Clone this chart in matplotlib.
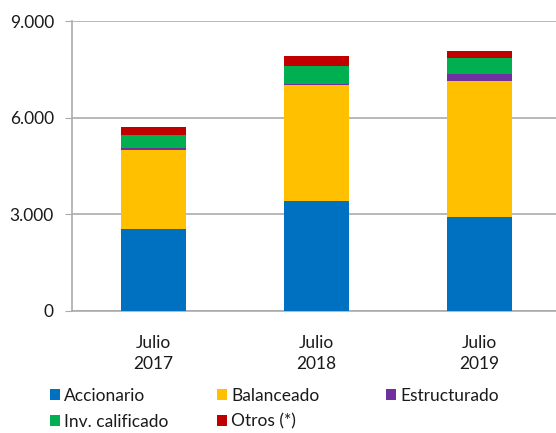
import matplotlib.pyplot as plt
from matplotlib.patches import Patch
from matplotlib.ticker import FuncFormatter

categories = ["Julio\n2017", "Julio\n2018", "Julio\n2019"]
series_names = ["Accionario", "Balanceado", "Estructurado", "Inv. calificado", "Otros (*)"]
accionario = [2530, 3420, 2930]
balanceado = [2470, 3600, 4200]
estructurado = [60, 30, 215]
inv_calificado = [390, 560, 515]
otros = [265, 300, 220]
colors = ["#0070C0", "#FFC000", "#7030A0", "#00B050", "#C00000"]
y_ticks = [0, 3000, 6000, 9000]

plt.rcParams["font.family"] = ["Lato", "DejaVu Sans"]

fig = plt.figure(figsize=(5.56, 4.33), dpi=100)
ax = fig.add_axes([0.1295, 0.2818, 0.88, 0.6697])

series = [accionario, balanceado, estructurado, inv_calificado, otros]
x = range(len(categories))
bottom = [0] * len(categories)
for name, vals, col in zip(series_names, series, colors):
    ax.bar(x, vals, width=0.4, bottom=bottom, color=col, label=name, zorder=3)
    bottom = [b + v for b, v in zip(bottom, vals)]

ax.set_xlim(-0.5, 2.5)
ax.set_ylim(0, 9000)
ax.set_yticks(y_ticks)
ax.yaxis.set_major_formatter(FuncFormatter(lambda v, p: f"{int(v):,}".replace(",", ".")))
ax.set_xticks(list(x))
ax.set_xticklabels(categories, fontsize=12.5, color="#1a1a1a", linespacing=1.45)
ax.grid(axis="y", color="#ababab", linewidth=1.2, zorder=0)
for s in ["top", "right"]:
    ax.spines[s].set_visible(False)
ax.spines["left"].set_color("#ababab")
ax.spines["bottom"].set_color("#ababab")
ax.spines["left"].set_linewidth(1.2)
ax.spines["bottom"].set_linewidth(1.2)
ax.tick_params(axis="y", length=5, color="#ababab", labelsize=12.5, labelcolor="#1a1a1a", pad=8)
ax.tick_params(axis="x", length=0, pad=17)

# legend: three columns laid out like the original, row-major order
col_x = [0.09, 0.39, 0.694]
columns = [[0, 3], [1, 4], [2]]
for cx, idx in zip(col_x, columns):
    handles = [Patch(facecolor=colors[i], edgecolor="none") for i in idx]
    labels = [series_names[i] for i in idx]
    leg = fig.legend(handles, labels, loc="upper left", bbox_to_anchor=(cx, 0.104),
                     frameon=False, fontsize=12.5, handlelength=0.57, handleheight=0.57,
                     handletextpad=0.25, labelspacing=0.55, borderpad=0,
                     borderaxespad=0, labelcolor="#1a1a1a")

fig.savefig("out.png", dpi=100)
